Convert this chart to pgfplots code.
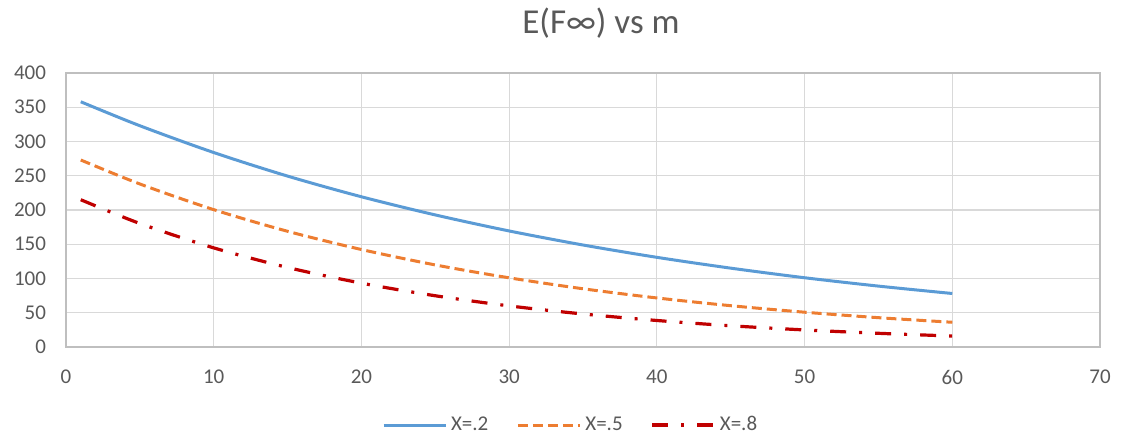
\documentclass[border=0pt]{standalone}
\usepackage{pgfplots}
\pgfplotsset{compat=1.18}
\usepackage{fontspec}
\setmainfont{Carlito}
\definecolor{serA}{RGB}{91,155,213}
\definecolor{serB}{RGB}{237,125,49}
\definecolor{serC}{RGB}{192,0,0}
\definecolor{gridc}{RGB}{217,217,217}
\definecolor{axc}{RGB}{191,191,191}
\definecolor{txtc}{RGB}{89,89,89}
\begin{document}
\begin{tikzpicture}
\path[use as bounding box] (0,0) rectangle (561pt,221.5pt);
\node[font=\fontsize{17.5}{20}\selectfont, text=txtc] at (300.5pt,210pt) {E(F∞) vs m};
\begin{axis}[
  at={(33pt,48pt)}, anchor=south west,
  scale only axis, width=517pt, height=137pt,
  xmin=0, xmax=70, ymin=0, ymax=400,
  xtick={0,10,...,70}, ytick={0,50,...,400},
  grid=major, major grid style={gridc, line width=0.6pt},
  axis line style={axc, line width=0.8pt},
  tick style={draw=none},
  /pgf/number format/assume math mode=true,
  tick label style={font=\fontsize{10.5}{12}\selectfont, text=txtc},
  yticklabel style={xshift=-6.5pt},
  xticklabel style={yshift=-8pt},
  legend columns=3,
  legend style={draw=none, fill=none, at={(0.489,-0.285)}, anchor=center,
    font=\fontsize{10.5}{12}\selectfont, text=txtc,
    /tikz/every even column/.append style={column sep=12pt}},
  legend image code/.code={\draw[#1] (0pt,0pt) -- (31pt,0pt);},
]
\addplot[serA, line width=1.5pt, smooth] coordinates {
  (1,358) (5,323) (10,283.9) (15,249.5) (20,219.3) (25,192.8) (30,169.4)
  (35,148.9) (40,130.9) (45,115.1) (50,101.1) (55,88.9) (60,78.1)};
\addlegendentry{X=.2}
\addplot[serB, line width=1.5pt, smooth, dash pattern=on 5pt off 2.5pt] coordinates {
  (1,273) (5,238.0) (10,200.5) (15,168.9) (20,142.3) (25,119.8) (30,101.0)
  (35,85.0) (40,71.6) (45,60.3) (50,50.8) (55,42.8) (60,36.1)};
\addlegendentry{X=.5}
\addplot[serC, line width=1.6pt, smooth, dash pattern=on 8pt off 6.5pt on 1.5pt off 6.5pt] coordinates {
  (1,215) (5,180.3) (10,144.7) (15,116.1) (20,93.2) (25,74.8) (30,60.0)
  (35,48.2) (40,38.7) (45,31.0) (50,24.9) (55,20.0) (60,16.0)};
\addlegendentry{X=.8}
\end{axis}
\end{tikzpicture}
\end{document}
